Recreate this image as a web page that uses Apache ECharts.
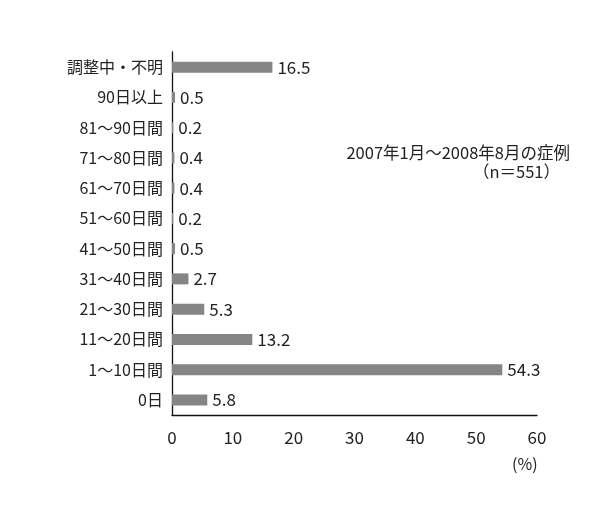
<!DOCTYPE html>
<html><head><meta charset="utf-8">
<script src="https://cdn.jsdelivr.net/npm/echarts@6/dist/echarts.min.js"></script>
<style>html,body{margin:0;padding:0;background:#fff}#c{width:605px;height:510px}</style>
</head><body><div id="c"></div>
<script>
const categories = ['0日','1～10日間','11～20日間','21～30日間','31～40日間','41～50日間','51～60日間','61～70日間','71～80日間','81～90日間','90日以上','調整中・不明'];
const values = [5.8, 54.3, 13.2, 5.3, 2.7, 0.5, 0.2, 0.4, 0.4, 0.2, 0.5, 16.5];
const xTicks = [0, 10, 20, 30, 40, 50, 60];
const noteLines = ['2007年1月～2008年8月の症例', '（n＝551）'];
const unitLabel = '(%)';

const font = '"Noto Sans CJK JP", "Noto Sans", sans-serif';
const chart = echarts.init(document.getElementById('c'));
chart.setOption({
  backgroundColor: '#fff',
  animation: false,
  grid: { left: 172, right: 68, top: 52, bottom: 95 },
  xAxis: {
    type: 'value', min: 0, max: 60, interval: 10,
    axisLine: { show: true, lineStyle: { color: '#111', width: 1.3 } },
    axisTick: { show: false },
    splitLine: { show: false },
    axisLabel: { color: '#222', fontSize: 17, fontFamily: font, margin: 14 }
  },
  yAxis: {
    type: 'category', data: categories,
    axisLine: { show: true, lineStyle: { color: '#111', width: 1.3 } },
    axisTick: { show: false },
    axisLabel: { color: '#222', fontSize: 16, fontFamily: font, margin: 9 }
  },
  series: [{
    type: 'bar', data: values, barWidth: 11,
    itemStyle: { color: '#858585' },
    label: { show: true, position: 'right', distance: 5, color: '#222', fontSize: 17, fontFamily: font }
  }],
  graphic: [
    { type: 'text', right: 35, top: 144, style: { text: noteLines[0], fill: '#222', font: '16.5px ' + font, textAlign: 'right' } },
    { type: 'text', right: 45, top: 163, style: { text: noteLines[1], fill: '#222', font: '16.5px ' + font, textAlign: 'right' } },
    { type: 'text', left: 512, top: 456, style: { text: unitLabel, fill: '#222', font: '16px ' + font } }
  ]
});
</script></body></html>
